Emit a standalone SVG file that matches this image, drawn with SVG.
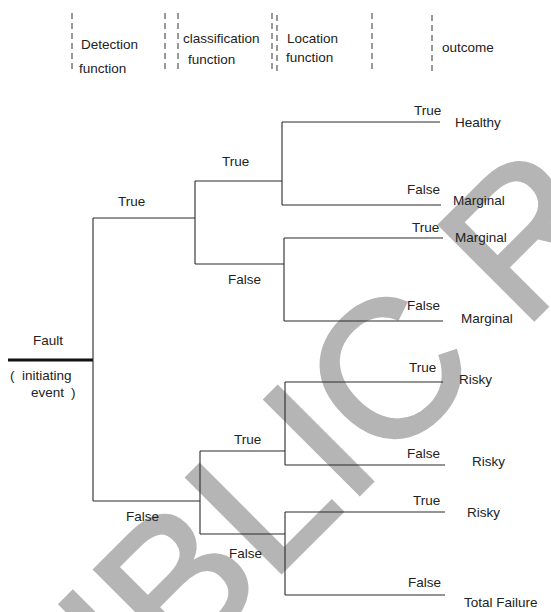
<svg xmlns="http://www.w3.org/2000/svg" width="551" height="612" viewBox="0 0 551 612">
<style>
text{font-family:"Liberation Sans",Arial,sans-serif;font-size:13.5px;fill:#222}
.ln{stroke:#2a2a2a;stroke-width:1.1;fill:none}
.dash{stroke:#333;stroke-width:1;stroke-dasharray:6 4;fill:none}
.wm{font-size:195px;fill:#b5b5b5;stroke:#b5b5b5;stroke-width:3;stroke-linejoin:miter}
</style>
<rect width="551" height="612" fill="#fff"/>
<text class="wm" transform="translate(-13.3,867.3) rotate(-45)">PUBLIC R</text>
<g id="header">
<line class="dash" x1="72" y1="13" x2="72" y2="73"/>
<line class="dash" x1="165" y1="13" x2="165" y2="73"/>
<line class="dash" x1="178" y1="13" x2="178" y2="73"/>
<line class="dash" x1="272" y1="13" x2="272" y2="73"/>
<line class="dash" x1="277" y1="15" x2="277" y2="73"/>
<line class="dash" x1="372" y1="13" x2="372" y2="73"/>
<line class="dash" x1="432" y1="15" x2="432" y2="75"/>
<text x="81" y="49">Detection</text>
<text x="79" y="73">function</text>
<text x="183" y="43">classification</text>
<text x="188" y="64">function</text>
<text x="287" y="43">Location</text>
<text x="286" y="62">function</text>
<text x="442" y="52">outcome</text>
</g>
<g id="connectors">
<line x1="8" y1="360" x2="93" y2="360" stroke="#111" stroke-width="3"/>
<path class="ln" d="M93 218V501M93 218H195M195 181V264M195 181H282M195 264H284M282 122V205M282 122H440M282 205H441M284 238V321M284 238H443M284 321H443"/>
<path class="ln" d="M93 501H200M200 451V534M200 451H285M200 534H285M285 382V465M285 382H443M285 465H445M285 512V595M285 512H445M285 595H445"/>
</g>
<g id="root"><text x="33" y="345">Fault</text><text x="10" y="380">(<tspan x="22">initiating</tspan></text><text x="31" y="397">event<tspan x="71">)</tspan></text></g>
<g id="branch-labels">
<text x="118" y="206">True</text>
<text x="222" y="166">True</text>
<text x="228" y="284">False</text>
<text x="126" y="521">False</text>
<text x="234" y="444">True</text>
<text x="229" y="558">False</text>
<text x="414" y="115">True</text>
<text x="407" y="194">False</text>
<text x="412" y="232">True</text>
<text x="407" y="310">False</text>
<text x="409" y="372">True</text>
<text x="407" y="458">False</text>
<text x="413" y="505">True</text>
<text x="408" y="587">False</text>
</g>
<g id="outcome-healthy"><text x="455" y="127">Healthy</text></g>
<g id="outcome-marginal-1"><text x="453" y="205">Marginal</text></g>
<g id="outcome-marginal-2"><text x="455" y="242">Marginal</text></g>
<g id="outcome-marginal-3"><text x="461" y="323">Marginal</text></g>
<g id="outcome-risky-1"><text x="459" y="384">Risky</text></g>
<g id="outcome-risky-2"><text x="472" y="466">Risky</text></g>
<g id="outcome-risky-3"><text x="467" y="517">Risky</text></g>
<g id="outcome-total-failure"><text x="464" y="607">Total Failure</text></g>
</svg>
